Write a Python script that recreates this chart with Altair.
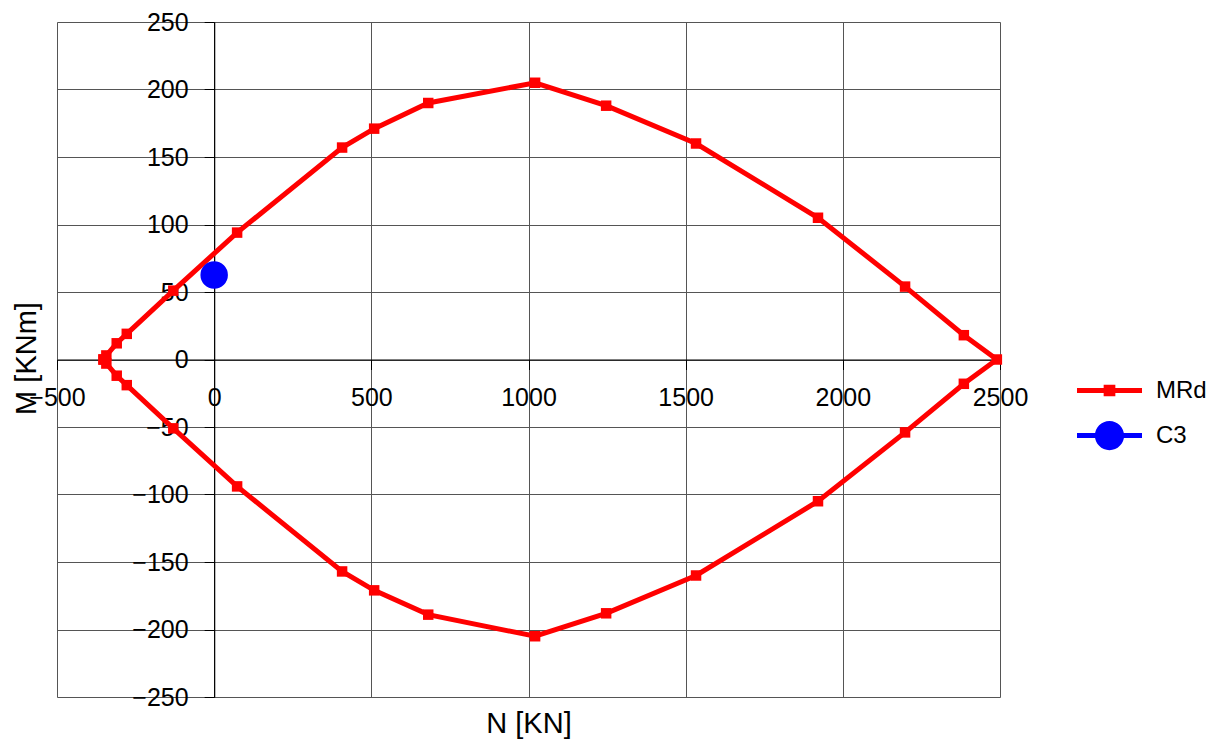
import altair as alt
import pandas as pd

# Interaction diagram MRd (closed polygon) and load point C3
n_upper = [-352, -343, -310, -278, -130, 73, 407, 509, 681, 1021, 1247, 1533, 1921, 2198, 2385, 2490]
m_upper = [0, 3, 12, 19, 51, 94, 157, 171, 190, 205, 188, 160, 105, 54, 18, 0]
n_lower = [2385, 2198, 1921, 1533, 1247, 1021, 681, 509, 407, 73, -130, -278, -310, -343, -352]
m_lower = [-18, -54, -105, -160, -188, -205, -189, -171, -157, -94, -51, -19, -12, -3, 0]

c3_n = [0]
c3_m = [62.6]

series_names = ["MRd", "C3"]
series_colors = ["#FF0000", "#0000FF"]

x_ticks = [-500, 0, 500, 1000, 1500, 2000, 2500]
y_ticks = [-250, -200, -150, -100, -50, 0, 50, 100, 150, 200, 250]

FONT = "Liberation Sans"

n_all = n_upper + n_lower
m_all = m_upper + m_lower
mrd = pd.DataFrame({"N": n_all, "M": m_all, "ord": list(range(len(n_all)))})
c3 = pd.DataFrame({"N": c3_n, "M": c3_m})
leg = pd.DataFrame({"series": series_names})

xs = alt.Scale(domain=[-500, 2500], nice=False, zero=False)
ys = alt.Scale(domain=[-250, 250], nice=False, zero=False)

W, H = 943, 675

x_axis = alt.Axis(
    values=x_ticks, format="d", title="N [KN]", offset=-(H / 2), grid=True,
    gridColor="#555555", gridWidth=1, gridOpacity=1,
    domainColor="#000000", domainWidth=1.2, tickColor="#000000", tickSize=10,
    labelFont=FONT, labelFontSize=25, labelColor="#000000", labelPadding=16,
    titleFont=FONT, titleFontSize=29, titleFontWeight="normal", titleColor="#000000",
    titleY=364, titleBaseline="middle", labelFlush=False, labelOverlap=False,
)
y_axis = alt.Axis(
    values=y_ticks, format="d", title="M [KNm]", offset=-(W / 6), grid=True,
    gridColor="#555555", gridWidth=1, gridOpacity=1,
    domainColor="#000000", domainWidth=1.2, tickColor="#000000", tickSize=10,
    labelFont=FONT, labelFontSize=25, labelColor="#000000", labelPadding=16,
    titleFont=FONT, titleFontSize=29, titleFontWeight="normal", titleColor="#000000",
    titleX=-188, titleY=336, titleBaseline="middle", titleAlign="center",
    labelFlush=False, labelOverlap=False,
)

line = alt.Chart(mrd).mark_line(color="#FF0000", strokeWidth=5).encode(
    x=alt.X("N:Q", scale=xs, axis=x_axis),
    y=alt.Y("M:Q", scale=ys, axis=y_axis),
    order="ord:Q",
)
squares = alt.Chart(mrd).mark_square(color="#FF0000", size=110, opacity=1).encode(
    x=alt.X("N:Q", scale=xs), y=alt.Y("M:Q", scale=ys)
)
point_c3 = alt.Chart(c3).mark_circle(color="#0000FF", size=755, opacity=1).encode(
    x=alt.X("N:Q", scale=xs), y=alt.Y("M:Q", scale=ys)
)

path_mrd = "M-1,-0.08L1,-0.08L1,0.08L-1,0.08Z M-0.18,-0.18L0.18,-0.18L0.18,0.18L-0.18,0.18Z"
path_c3 = "M-1,-0.08L1,-0.08L1,0.08L-1,0.08Z M-0.45,0 A0.45,0.45 0 1,1 0.45,0 A0.45,0.45 0 1,1 -0.45,0 Z"

legend_cfg = dict(title=None, orient="none", legendX=1020, legendY=336,
                  symbolSize=4225, symbolOpacity=1, symbolStrokeWidth=0,
                  labelFont=FONT, labelFontSize=24, labelColor="#000000",
                  labelOffset=14, rowPadding=-18, padding=0)

legend_layer = alt.Chart(leg).mark_point(filled=True, opacity=0).encode(
    color=alt.Color("series:N", scale=alt.Scale(domain=series_names, range=series_colors),
                    legend=alt.Legend(**legend_cfg)),
    shape=alt.Shape("series:N", scale=alt.Scale(domain=series_names, range=[path_mrd, path_c3]),
                    legend=alt.Legend(**legend_cfg)),
)

chart = alt.layer(line, squares, point_c3, legend_layer).properties(
    width=W, height=H,
    autosize=alt.AutoSizeParams(type="none"),
    padding={"left": 49, "top": 14, "right": 210, "bottom": 44},
).configure_view(stroke="#000000", strokeWidth=1.2).configure(background="white")

chart.save("out.html", embed_options={"renderer": "svg", "actions": False})
